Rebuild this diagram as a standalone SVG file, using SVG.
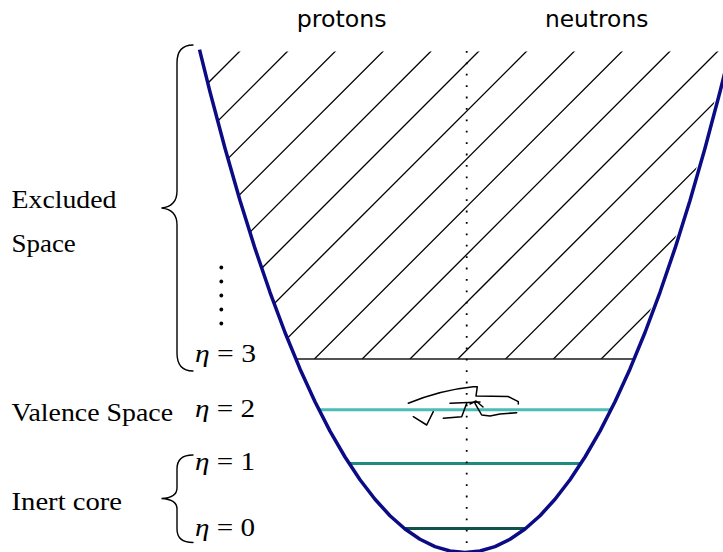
<svg xmlns="http://www.w3.org/2000/svg" width="723" height="552" viewBox="0 0 723 552">
<style>
.serif{font-family:"Liberation Serif","Times New Roman",serif;font-size:25px;fill:#000}
.sans{font-family:"DejaVu Sans",sans-serif;font-size:23px;fill:#000}
.hatch{stroke:#000;stroke-width:1.3;fill:none}
.brace{stroke:#000;stroke-width:1.4;fill:none;stroke-linecap:round}
.level{fill:none;stroke-width:3}
</style>
<defs>
<clipPath id="clipCurve">
<path d="M199.5,49.6 L210,91.8 L225,148.2 L240,200.4 L255,248.4 L270,292.3 L285,332.5 L300,368.9 L315,401.7 L330,431.1 L345,457 L465,552.5 L582,457 L597,431.1 L612,401.7 L627,368.9 L642,332.5 L657,292.3 L672,248.4 L687,200.4 L702,148.2 L717,91.8 L727.5,49.6 Z"/>
</clipPath>
<clipPath id="clipBand">
<rect x="0" y="51.5" width="723" height="307.5"/>
</clipPath>
</defs>
<g id="hatching" clip-path="url(#clipBand)">
<g clip-path="url(#clipCurve)" class="hatch">
<line x1="-79" y1="370" x2="251" y2="40"/>
<line x1="-31.2" y1="370" x2="298.8" y2="40"/>
<line x1="16.6" y1="370" x2="346.6" y2="40"/>
<line x1="64.4" y1="370" x2="394.4" y2="40"/>
<line x1="112.2" y1="370" x2="442.2" y2="40"/>
<line x1="160" y1="370" x2="490" y2="40"/>
<line x1="207.8" y1="370" x2="537.8" y2="40"/>
<line x1="255.6" y1="370" x2="585.6" y2="40"/>
<line x1="303.4" y1="370" x2="633.4" y2="40"/>
<line x1="351.2" y1="370" x2="681.2" y2="40"/>
<line x1="399" y1="370" x2="729" y2="40"/>
<line x1="446.8" y1="370" x2="776.8" y2="40"/>
<line x1="494.6" y1="370" x2="824.6" y2="40"/>
<line x1="542.4" y1="370" x2="872.4" y2="40"/>
<line x1="590.2" y1="370" x2="920.2" y2="40"/>
</g>
</g>
<g id="levels">
<line id="eta3" x1="295.8" y1="359" x2="634.2" y2="359" stroke="#1a1a1a" stroke-width="1.5"/>
<line id="eta2" class="level" x1="318.7" y1="409.7" x2="611.3" y2="409.7" stroke="#4bbdb6"/>
<line id="eta1" class="level" x1="349.1" y1="463.5" x2="580.9" y2="463.5" stroke="#1f8a80"/>
<line id="eta0" class="level" x1="404.4" y1="528.5" x2="525.6" y2="528.5" stroke="#10524c"/>
</g>
<g id="axis">
<line x1="466.7" y1="51" x2="466.7" y2="552" stroke="#000" stroke-width="1.8" stroke-dasharray="1.8 9.6"/>
</g>
<g id="potential">
<path d="M199.5,49.6 L210,91.8 L225,148.2 L240,200.4 L255,248.4 L270,292.3 L285,332.5 L300,368.9 L315,401.7 L330,431.1 L345,457 L360,479.8 L375,499.3 L390,515.7 L405,529 L420,539.3 L435,546.6 L450,551 L465,552.5 L480,551 L495,546.6 L510,539.3 L525,529 L540,515.7 L555,499.3 L570,479.8 L585,457 L600,431.1 L615,401.7 L630,368.9 L645,332.5 L660,292.3 L675,248.4 L690,200.4 L705,148.2 L720,91.8 L730.5,49.6" fill="none" stroke="#0b0b85" stroke-width="3.5" stroke-linejoin="round"/>
</g>
<g id="scribble" fill="none" stroke="#000" stroke-width="1.5" stroke-linejoin="round" stroke-linecap="round">
<path d="M408.3,403.3 Q440,390 473.3,386.7 L477.3,386.7 L476,396 L508,396.5 L518.3,401.7 L518.3,404"/>
<path d="M450,403.3 L480,402"/>
<path d="M466.7,403.3 L461.7,416.7 L443.3,418.3"/>
<path d="M475,403.3 L481.7,415 L490,416 L500,414 L516.7,412.7"/>
<path d="M413.3,416.7 L426.7,425 L433.3,411.7"/>
<path d="M470,404 L476,401 L483,407"/>
</g>
<g id="excluded-brace">
<path class="brace" d="M193,45 C183,45 177,51 177,63 L177,191 C177,202 171,207 161.5,208 C171,209 177,214 177,225 L177,353 C177,365 183,371 193,371"/>
<g id="vdots" fill="#000">
<circle cx="221.3" cy="267.5" r="1.9"/>
<circle cx="221.3" cy="281.5" r="1.9"/>
<circle cx="221.3" cy="295.5" r="1.9"/>
<circle cx="221.3" cy="309.5" r="1.9"/>
<circle cx="221.3" cy="323.5" r="1.9"/>
</g>
</g>
<g id="inert-brace">
<path class="brace" d="M193,455 C183,455 177,459 177,469 L177,488 C177,495 171,498 161.5,498.5 C171,499 177,502 177,509 L177,529 C177,538 183,542.5 193,542.5"/>
</g>
<g id="labels">
<text class="sans" x="296.7" y="26.7" textLength="90" lengthAdjust="spacingAndGlyphs">protons</text>
<text class="sans" x="545" y="26.7" textLength="103.3" lengthAdjust="spacingAndGlyphs">neutrons</text>
<text class="serif" x="11.5" y="207.5" textLength="105" lengthAdjust="spacingAndGlyphs">Excluded</text>
<text class="serif" x="11.5" y="251.5" textLength="64.3" lengthAdjust="spacingAndGlyphs">Space</text>
<text class="serif" x="11.5" y="420.5" textLength="161.5" lengthAdjust="spacingAndGlyphs">Valence Space</text>
<text class="serif" x="11.5" y="510" textLength="110.6" lengthAdjust="spacingAndGlyphs">Inert core</text>
<text class="serif" x="195" y="362.3" textLength="61" lengthAdjust="spacingAndGlyphs"><tspan font-style="italic">η</tspan> = 3</text>
<text class="serif" x="195" y="416.7" textLength="60" lengthAdjust="spacingAndGlyphs"><tspan font-style="italic">η</tspan> = 2</text>
<text class="serif" x="195" y="470" textLength="60" lengthAdjust="spacingAndGlyphs"><tspan font-style="italic">η</tspan> = 1</text>
<text class="serif" x="195" y="536" textLength="60" lengthAdjust="spacingAndGlyphs"><tspan font-style="italic">η</tspan> = 0</text>
</g>
</svg>
